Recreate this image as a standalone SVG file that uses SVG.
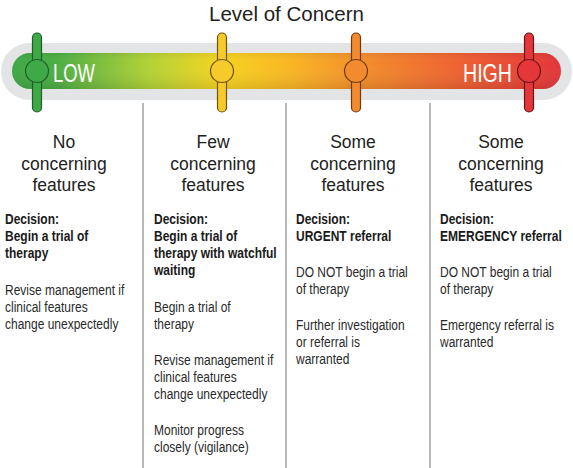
<svg xmlns="http://www.w3.org/2000/svg" width="573" height="468" viewBox="0 0 573 468">
<defs>
<linearGradient id="bar" x1="12" y1="0" x2="561" y2="0" gradientUnits="userSpaceOnUse">
<stop offset="0" stop-color="#3ea846"/>
<stop offset="0.08" stop-color="#4cae45"/>
<stop offset="0.25" stop-color="#b2d236"/>
<stop offset="0.38" stop-color="#f6d420"/>
<stop offset="0.51" stop-color="#f9b523"/>
<stop offset="0.63" stop-color="#f3902b"/>
<stop offset="0.8" stop-color="#ef6531"/>
<stop offset="1" stop-color="#e3353a"/>
</linearGradient>
<linearGradient id="shade" x1="0" y1="0" x2="0" y2="1">
<stop offset="0" stop-color="#000" stop-opacity="0.06"/>
<stop offset="0.3" stop-color="#fff" stop-opacity="0"/>
<stop offset="1" stop-color="#000" stop-opacity="0.1"/>
</linearGradient>
</defs>
<style>
.title{font-family:"Liberation Sans",Arial,sans-serif;font-size:20.5px;fill:#222}
.hd{font-family:"Liberation Sans",Arial,sans-serif;font-size:17.5px;fill:#222;text-anchor:middle}
.b{font-family:"Liberation Sans",Arial,sans-serif;font-size:15px;font-weight:bold;fill:#1a1a1a}
.t{font-family:"Liberation Sans",Arial,sans-serif;font-size:15px;fill:#2a2a2a}
.lvl{font-family:"Liberation Sans",Arial,sans-serif;font-size:25px;fill:#fff}
.div{stroke:#8a8a8a;stroke-width:1.2}
</style>

<text class="title" x="286.5" y="21" text-anchor="middle">Level of Concern</text>

<g id="scale">
<rect x="1" y="43" width="571" height="57" rx="28.5" fill="#e3e4e6"/>
<rect x="12" y="53" width="549" height="36" rx="18" fill="url(#bar)"/>
<rect x="12" y="53" width="549" height="36" rx="18" fill="url(#shade)"/>
<text class="lvl" x="53" y="82" textLength="42" lengthAdjust="spacingAndGlyphs">LOW</text>
<text class="lvl" x="463" y="82" textLength="49" lengthAdjust="spacingAndGlyphs">HIGH</text>
</g>

<g id="slider-green">
<rect x="32.5" y="33" width="9" height="79" rx="4.5" fill="#3fa847" stroke="#1d5f27" stroke-width="1.2"/>
<circle cx="37" cy="71" r="11.5" fill="#3fa847" stroke="#1d5f27" stroke-width="1.2"/>
</g>
<g id="slider-yellow">
<rect x="217.5" y="33" width="9" height="79" rx="4.5" fill="#f6ca2b" stroke="#6f5510" stroke-width="1.2"/>
<circle cx="222" cy="71" r="11.5" fill="#f6ca2b" stroke="#6f5510" stroke-width="1.2"/>
</g>
<g id="slider-orange">
<rect x="351.5" y="33" width="9" height="79" rx="4.5" fill="#f28a2e" stroke="#6e3a12" stroke-width="1.2"/>
<circle cx="356" cy="71" r="11.5" fill="#f28a2e" stroke="#6e3a12" stroke-width="1.2"/>
</g>
<g id="slider-red">
<rect x="524.5" y="33" width="9" height="79" rx="4.5" fill="#e5363a" stroke="#6a1518" stroke-width="1.2"/>
<circle cx="529" cy="71" r="11.5" fill="#e5363a" stroke="#6a1518" stroke-width="1.2"/>
</g>

<g id="dividers">
<line class="div" x1="143" y1="103" x2="143" y2="468"/>
<line class="div" x1="286" y1="103" x2="286" y2="468"/>
<line class="div" x1="430" y1="103" x2="430" y2="468"/>
</g>

<g id="col1">
<text class="hd" x="64" y="148">No</text>
<text class="hd" x="64" y="170">concerning</text>
<text class="hd" x="64" y="191">features</text>
<g transform="translate(5 0) scale(0.8 1)">
<text class="b" x="0" y="224">Decision:</text>
<text class="b" x="0" y="241">Begin a trial of</text>
<text class="b" x="0" y="258">therapy</text>
<text class="t" x="0" y="295">Revise management if</text>
<text class="t" x="0" y="312">clinical features</text>
<text class="t" x="0" y="329">change unexpectedly</text>
</g>
</g>

<g id="col2">
<text class="hd" x="213" y="148">Few</text>
<text class="hd" x="213" y="170">concerning</text>
<text class="hd" x="213" y="191">features</text>
<g transform="translate(154 0) scale(0.8 1)">
<text class="b" x="0" y="224">Decision:</text>
<text class="b" x="0" y="241">Begin a trial of</text>
<text class="b" x="0" y="258">therapy with watchful</text>
<text class="b" x="0" y="275">waiting</text>
<text class="t" x="0" y="312">Begin a trial of</text>
<text class="t" x="0" y="329">therapy</text>
<text class="t" x="0" y="365">Revise management if</text>
<text class="t" x="0" y="382">clinical features</text>
<text class="t" x="0" y="399">change unexpectedly</text>
<text class="t" x="0" y="435">Monitor progress</text>
<text class="t" x="0" y="452">closely (vigilance)</text>
</g>
</g>

<g id="col3">
<text class="hd" x="353" y="148">Some</text>
<text class="hd" x="353" y="170">concerning</text>
<text class="hd" x="353" y="191">features</text>
<g transform="translate(296 0) scale(0.8 1)">
<text class="b" x="0" y="224">Decision:</text>
<text class="b" x="0" y="241">URGENT referral</text>
<text class="t" x="0" y="277">DO NOT begin a trial</text>
<text class="t" x="0" y="294">of therapy</text>
<text class="t" x="0" y="330">Further investigation</text>
<text class="t" x="0" y="347">or referral is</text>
<text class="t" x="0" y="364">warranted</text>
</g>
</g>

<g id="col4">
<text class="hd" x="501" y="148">Some</text>
<text class="hd" x="501" y="170">concerning</text>
<text class="hd" x="501" y="191">features</text>
<g transform="translate(440 0) scale(0.8 1)">
<text class="b" x="0" y="224">Decision:</text>
<text class="b" x="0" y="241">EMERGENCY referral</text>
<text class="t" x="0" y="277">DO NOT begin a trial</text>
<text class="t" x="0" y="294">of therapy</text>
<text class="t" x="0" y="330">Emergency referral is</text>
<text class="t" x="0" y="347">warranted</text>
</g>
</g>
</svg>
